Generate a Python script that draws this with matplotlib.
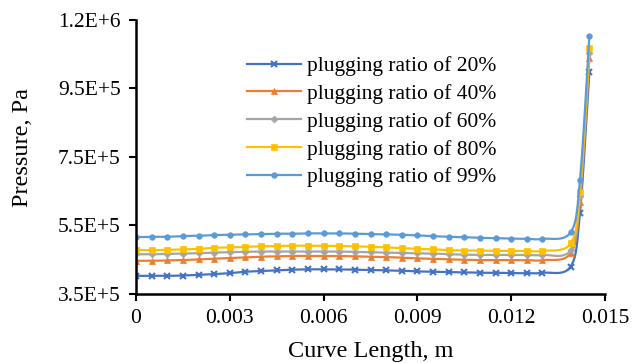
import numpy as np
import matplotlib

matplotlib.use("Agg")
import matplotlib.pyplot as plt
from matplotlib.lines import Line2D

# curve length [m]: 27 evenly spaced samples on the plateau, then the exit rise
x_len = [i * 0.0005 for i in range(27)] + [0.0139, 0.0142, 0.0145]

# pressure [1e5 Pa]
p20 = [4.03, 4.03, 4.03, 4.04, 4.06, 4.08, 4.11, 4.15, 4.17, 4.19, 4.21, 4.22, 4.22,
       4.22, 4.21, 4.20, 4.19, 4.18, 4.16, 4.15, 4.14, 4.13, 4.12, 4.12, 4.11, 4.11,
       4.12, 4.30, 5.87, 9.99]
p40 = [4.47, 4.47, 4.48, 4.49, 4.51, 4.53, 4.55, 4.57, 4.59, 4.60, 4.61, 4.61, 4.61,
       4.61, 4.60, 4.59, 4.58, 4.56, 4.54, 4.53, 4.51, 4.50, 4.49, 4.49, 4.49, 4.49,
       4.49, 4.69, 6.20, 10.38]
p60 = [4.66, 4.66, 4.67, 4.68, 4.69, 4.71, 4.72, 4.73, 4.74, 4.74, 4.74, 4.74, 4.74,
       4.74, 4.73, 4.72, 4.71, 4.70, 4.69, 4.68, 4.66, 4.65, 4.64, 4.64, 4.64, 4.64,
       4.64, 4.78, 6.36, 10.53]
p80 = [4.78, 4.78, 4.79, 4.80, 4.82, 4.85, 4.86, 4.88, 4.89, 4.90, 4.91, 4.91, 4.91,
       4.90, 4.89, 4.88, 4.86, 4.84, 4.82, 4.80, 4.78, 4.77, 4.77, 4.76, 4.76, 4.76,
       4.76, 4.98, 6.49, 10.67]
p99 = [5.16, 5.17, 5.17, 5.19, 5.20, 5.22, 5.23, 5.24, 5.25, 5.26, 5.26, 5.27, 5.27,
       5.27, 5.26, 5.25, 5.24, 5.23, 5.21, 5.19, 5.17, 5.16, 5.14, 5.13, 5.12, 5.11,
       5.11, 5.30, 6.83, 11.03]

labels = ["plugging ratio of 20%", "plugging ratio of 40%", "plugging ratio of 60%",
          "plugging ratio of 80%", "plugging ratio of 99%"]
colors = ["#4472C4", "#ED7D31", "#A5A5A5", "#FFC000", "#5B9BD5"]
markers = ["x", "^", "D", "s", "o"]
msizes = [4.5, 4.5, 3.5, 4.5, 4.0]

x_ticks = [0, 0.003, 0.006, 0.009, 0.012, 0.015]
x_ticklabels = ["0", "0.003", "0.006", "0.009", "0.012", "0.015"]
y_ticks = [3.5e5, 5.5e5, 7.5e5, 9.5e5, 1.15e6]
y_ticklabels = ["3.5E+5", "5.5E+5", "7.5E+5", "9.5E+5", "1.2E+6"]


def smooth(x, y, n=16):
    """Excel-style smoothed line: cubic Bezier through each point pair."""
    x = np.asarray(x, float)
    y = np.asarray(y, float)
    px = np.concatenate([[x[0]], x, [x[-1]]])
    py = np.concatenate([[y[0]], y, [y[-1]]])
    t = np.linspace(0, 1, n)[:, None]
    xs, ys = [], []
    for i in range(len(x) - 1):
        p0 = np.array([x[i], y[i]])
        p3 = np.array([x[i + 1], y[i + 1]])
        c1 = p0 + (np.array([px[i + 2], py[i + 2]]) - np.array([px[i], py[i]])) / 6
        c2 = p3 - (np.array([px[i + 3], py[i + 3]]) - np.array([px[i + 1], py[i + 1]])) / 6
        seg = ((1 - t) ** 3 * p0 + 3 * (1 - t) ** 2 * t * c1
               + 3 * (1 - t) * t ** 2 * c2 + t ** 3 * p3)
        xs.append(seg[:, 0])
        ys.append(seg[:, 1])
    return np.concatenate(xs), np.concatenate(ys)


plt.rcParams["font.family"] = ["Liberation Serif", "DejaVu Serif"]

fig = plt.figure(figsize=(6.32, 3.63), dpi=100)
ax = fig.add_axes([136 / 632, 1 - 294 / 363, 469 / 632, 274 / 363])

handles = []
for vals, lab, col, mk, ms in zip([p20, p40, p60, p80, p99], labels, colors, markers, msizes):
    y = np.array(vals) * 1e5
    sx, sy = smooth(x_len, y)
    ax.plot(sx, sy, color=col, lw=1.6, solid_capstyle="round")
    ax.plot(x_len, y, linestyle="none", marker=mk, ms=ms, color=col,
            markeredgewidth=1.5 if mk == "x" else 0.5)
    handles.append(Line2D([], [], color=col, lw=1.6, marker=mk, ms=ms,
                          markeredgewidth=1.5 if mk == "x" else 0.5))

ax.set_xlim(0, 0.015)
ax.set_ylim(3.5e5, 1.15e6)
ax.set_xticks(x_ticks)
ax.set_xticklabels(x_ticklabels)
ax.set_yticks(y_ticks)
ax.set_yticklabels(y_ticklabels)
ax.tick_params(direction="out", length=5, width=1.5, labelsize=15.5, pad=6)

for side in ("top", "right"):
    ax.spines[side].set_visible(False)
for side in ("left", "bottom"):
    ax.spines[side].set_linewidth(1.8)
    ax.spines[side].set_color("black")

ax.set_xlabel("Curve Length, m", fontsize=17.5, labelpad=9)
ax.set_ylabel("Pressure, Pa", fontsize=17.5)
ax.yaxis.set_label_coords(-0.22, 0.535)

fig.legend(handles=handles, labels=labels, loc="upper left",
           bbox_to_anchor=(247 / 632, 1 - 56 / 363), frameon=False,
           fontsize=15.5, handlelength=2.5, handletextpad=0.3,
           labelspacing=0.36, borderpad=0, borderaxespad=0)

fig.savefig("out.png", dpi=100)
